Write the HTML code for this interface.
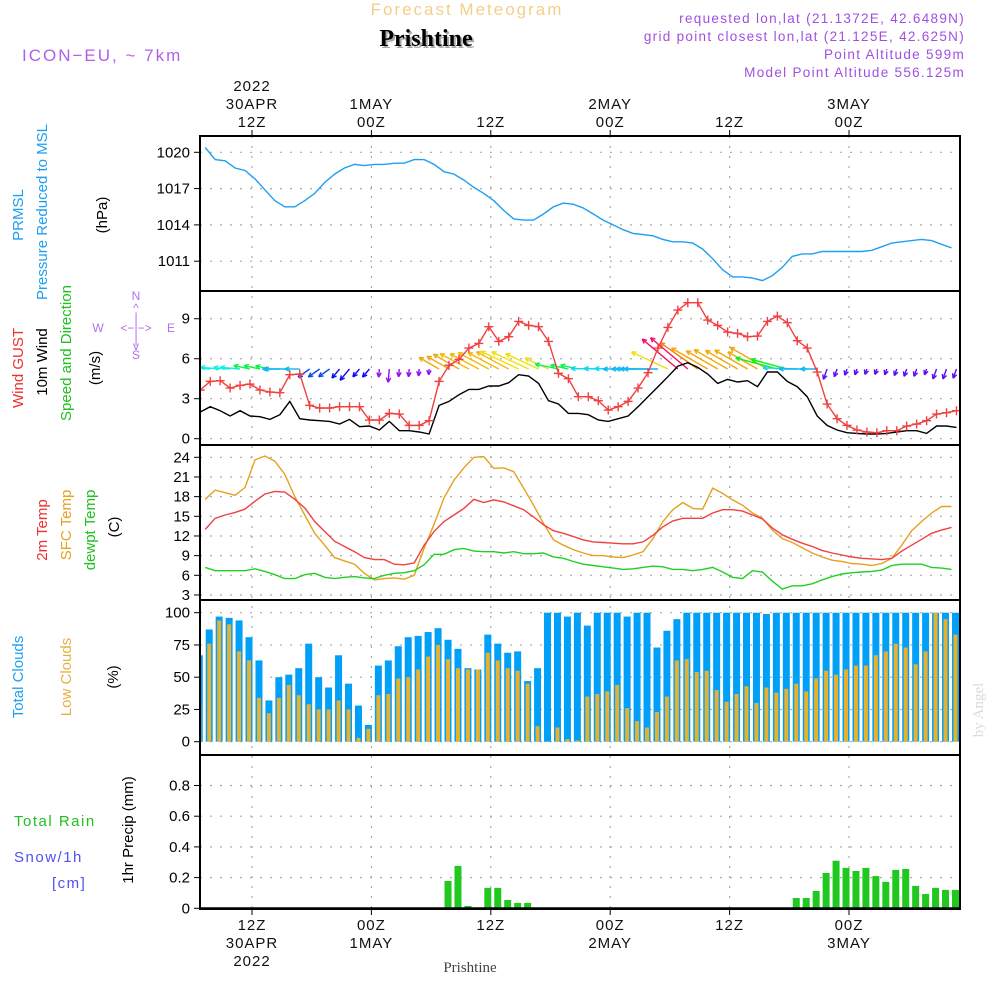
<!DOCTYPE html>
<html><head><meta charset="utf-8"><title>Meteogram Prishtine</title>
<style>
html,body{margin:0;padding:0;background:#fff;}
svg{display:block;font-family:"Liberation Sans",sans-serif;}
</style></head>
<body>
<svg id="chart" width="1000" height="1000" viewBox="0 0 1000 1000" xmlns="http://www.w3.org/2000/svg">
<defs>
<clipPath id="c1"><rect x="200" y="136" width="760" height="155"/></clipPath>
<clipPath id="c2"><rect x="200" y="291" width="760" height="154"/></clipPath>
<clipPath id="c3"><rect x="200" y="445" width="760" height="155"/></clipPath>
<clipPath id="c4"><rect x="200" y="600" width="760" height="155"/></clipPath>
<clipPath id="c5"><rect x="200" y="755" width="760" height="154"/></clipPath>
</defs>
<g>
<text x="467" y="15" text-anchor="middle" font-size="17" fill="#f2d08a" letter-spacing="2">Forecast Meteogram</text>
<text x="428" y="48" text-anchor="middle" font-size="24" font-weight="bold" font-family="Liberation Serif,serif" fill="#aaa">Prishtine</text>
<text x="426" y="46" text-anchor="middle" font-size="24" font-weight="bold" font-family="Liberation Serif,serif" fill="#000">Prishtine</text>
<text x="22" y="61" font-size="17" fill="#b060e8" letter-spacing="2">ICON−EU, ~ 7km</text>
<text x="965" y="23" text-anchor="end" font-size="13.5" fill="#a050e0" letter-spacing="1.3">requested lon,lat (21.1372E, 42.6489N)</text>
<text x="965" y="41" text-anchor="end" font-size="13.5" fill="#a050e0" letter-spacing="1.3">grid point closest lon,lat (21.125E, 42.625N)</text>
<text x="965" y="59" text-anchor="end" font-size="13.5" fill="#a050e0" letter-spacing="1.3">Point Altitude 599m</text>
<text x="965" y="77" text-anchor="end" font-size="13.5" fill="#a050e0" letter-spacing="1.3">Model Point Altitude 556.125m</text>
<text x="983" y="710" transform="rotate(-90 983 710)" text-anchor="middle" font-size="15" font-family="Liberation Serif,serif" fill="#d8dcd8">by Angel</text>
<text x="470" y="972" text-anchor="middle" font-size="15" font-family="Liberation Serif,serif" fill="#444">Prishtine</text>
</g>
<g font-size="15">
<text transform="translate(23,215) rotate(-90)" text-anchor="middle" fill="#1ea0f0">PRMSL</text>
<text transform="translate(47,212) rotate(-90)" text-anchor="middle" fill="#1ea0f0">Pressure Reduced to MSL</text>
<text transform="translate(107,215) rotate(-90)" text-anchor="middle" fill="#000">(hPa)</text>
<text transform="translate(23,368) rotate(-90)" text-anchor="middle" fill="#f03030">Wind GUST</text>
<text transform="translate(47,362) rotate(-90)" text-anchor="middle" fill="#000">10m Wind</text>
<text transform="translate(71,353) rotate(-90)" text-anchor="middle" fill="#20c020">Speed and Direction</text>
<text transform="translate(100,368) rotate(-90)" text-anchor="middle" fill="#000">(m/s)</text>
<g font-size="12" fill="#b070f0" text-anchor="middle">
<text x="136" y="300">N</text><text x="136" y="312">^</text><text x="136" y="321">|</text>
<text x="98" y="332">W</text><text x="136" y="332">&lt;−|−&gt;</text><text x="171" y="332">E</text>
<text x="136" y="343">|</text><text x="136" y="350">v</text><text x="136" y="359">S</text>
</g>
<text transform="translate(47,530) rotate(-90)" text-anchor="middle" fill="#f03030">2m Temp</text>
<text transform="translate(71,525) rotate(-90)" text-anchor="middle" fill="#e8a020">SFC Temp</text>
<text transform="translate(95,530) rotate(-90)" text-anchor="middle" fill="#20c020">dewpt Temp</text>
<text transform="translate(119,527) rotate(-90)" text-anchor="middle" fill="#000">(C)</text>
<text transform="translate(23,677) rotate(-90)" text-anchor="middle" fill="#1ea0f0">Total Clouds</text>
<text transform="translate(71,677) rotate(-90)" text-anchor="middle" fill="#e8b040">Low Clouds</text>
<text transform="translate(118,677) rotate(-90)" text-anchor="middle" fill="#000">(%)</text>
<text x="14" y="826" fill="#20c020" letter-spacing="1.5">Total   Rain</text>
<text x="14" y="862" fill="#5050f0" letter-spacing="1.5">Snow/1h</text>
<text x="52" y="888" fill="#5050f0" letter-spacing="1.5">[cm]</text>
<text transform="translate(133,830) rotate(-90)" text-anchor="middle" fill="#000">1hr Precip (mm)</text>
</g>
<g id="plot"></g>
</svg>
<script>
const pressure=[1020.4,1019.4,1019.3,1018.7,1018.5,1017.8,1016.9,1016.0,1015.5,1015.5,1016.0,1016.6,1017.5,1018.2,1018.7,1019.0,1018.9,1019.0,1019.0,1019.1,1019.1,1019.4,1019.4,1019.0,1018.4,1018.2,1017.7,1017.1,1016.6,1016.0,1015.2,1014.5,1014.4,1014.4,1014.9,1015.5,1015.8,1015.7,1015.4,1014.9,1014.4,1014.0,1013.6,1013.3,1013.2,1013.1,1012.8,1012.6,1012.6,1012.5,1012.0,1011.2,1010.3,1009.7,1009.7,1009.6,1009.4,1009.8,1010.5,1011.4,1011.6,1011.6,1011.8,1011.8,1011.8,1011.8,1011.8,1011.9,1012.2,1012.5,1012.6,1012.7,1012.8,1012.7,1012.4,1012.1];
const temp2m=[13.0,14.7,15.2,15.6,16.1,17.3,18.4,18.8,18.7,17.6,16.3,14.2,12.7,11.2,10.4,9.6,8.7,8.4,8.4,7.7,7.6,7.9,10.6,12.7,14.2,15.2,16.2,17.6,17.1,17.5,17.2,16.6,16.0,14.9,13.7,12.8,12.4,11.9,11.4,11.1,11.0,10.9,10.8,10.8,11.1,12.1,13.4,14.3,14.7,14.7,14.7,15.5,16.0,16.0,15.8,15.2,14.6,13.2,12.2,11.5,10.9,10.4,9.8,9.4,9.1,8.8,8.6,8.5,8.4,8.6,9.7,10.6,11.5,12.4,12.9,13.3];
const sfcTemp=[17.6,19.0,18.6,18.2,19.4,23.6,24.2,23.4,21.4,18.0,15.2,12.4,10.6,8.7,8.2,7.7,6.3,5.3,5.5,5.6,5.4,6.0,10.1,13.8,17.8,20.5,22.4,24.0,24.1,22.3,22.4,21.8,19.3,16.7,13.9,11.4,10.6,9.9,9.4,9.0,9.0,8.8,8.7,9.1,9.6,11.6,14.2,16.0,17.1,16.2,16.1,19.3,18.5,17.5,16.7,15.5,14.7,12.9,11.6,11.0,10.2,9.4,8.8,8.3,8.1,7.8,7.7,7.5,7.8,8.6,10.6,12.8,14.2,15.5,16.5,16.5];
const dewpt=[7.2,6.7,6.7,6.7,6.7,7.0,6.6,6.1,5.5,5.5,6.1,6.3,5.7,5.5,5.7,5.8,5.6,5.5,6.0,6.3,6.4,6.7,7.6,9.2,9.2,9.9,10.1,9.7,9.6,9.6,9.4,9.6,9.3,9.3,9.4,8.8,8.6,8.1,7.7,7.5,7.3,7.1,6.9,7.0,7.2,7.4,7.3,6.9,6.9,6.7,6.9,7.2,6.5,5.7,5.5,6.7,6.5,5.1,3.9,4.4,4.4,4.7,5.3,5.8,6.2,6.4,6.5,6.6,6.8,7.5,7.7,7.7,7.7,7.2,7.1,6.9];
const gust=[3.65,4.3,4.35,3.8,4.0,4.1,3.65,3.5,3.45,4.8,4.85,2.5,2.3,2.3,2.4,2.4,2.4,1.4,1.4,1.9,1.85,1.0,1.0,1.35,4.3,5.5,5.95,6.8,7.15,8.4,7.3,7.65,8.8,8.5,8.4,7.3,4.9,4.5,3.15,3.15,2.85,2.15,2.4,2.8,3.8,4.95,6.8,8.35,9.65,10.2,10.2,8.9,8.5,8.0,7.9,7.65,7.7,8.8,9.2,8.7,7.35,6.8,5.0,2.6,1.5,1.0,0.65,0.5,0.45,0.6,0.6,0.95,1.1,1.35,1.85,1.95,2.1];
const wind10=[2.0,2.4,2.1,1.7,2.1,1.7,1.65,1.45,1.8,2.8,1.5,1.4,1.35,1.3,1.1,1.45,0.9,0.95,0.65,1.3,0.6,0.6,0.5,0.35,2.5,2.8,3.3,3.7,3.7,3.95,3.95,4.2,4.8,4.7,4.15,2.85,2.6,1.9,1.9,1.8,1.4,1.3,1.5,1.7,2.4,3.15,3.9,4.65,5.45,5.7,5.35,4.85,4.15,4.45,4.25,4.35,3.9,5.0,5.0,4.3,3.9,3.15,1.7,1.0,0.65,0.45,0.4,0.35,0.35,0.4,0.5,0.6,0.6,0.4,0.95,0.95,0.85];
const windDir=[175,175,175,175,175,168,168,168,180,180,180,215,215,215,230,230,230,230,265,265,265,265,265,265,150,150,150,152,152,152,152,152,155,155,155,155,168,168,168,178,178,178,180,180,180,180,180,155,140,140,145,150,150,150,150,150,150,150,165,165,178,180,180,250,250,250,250,250,250,250,250,250,250,250,250,250,250];
const totalClouds=[67,87,97,96,94,81,63,32,50,52,57,76,50,42,67,45,28,13,59,63,74,81,82,85,88,79,72,57,56,83,76,69,70,47,57,100,100,97,100,90,100,100,100,97,100,100,73,86,95,100,100,100,100,100,100,100,100,99,100,100,100,100,100,100,100,100,100,100,100,100,100,100,100,100,100,100,100];
const lowClouds=[28,76,94,91,70,63,34,22,34,44,36,29,25,25,32,25,3,10,36,37,49,50,56,66,75,64,57,56,56,69,63,57,55,45,12,0,11,2,1,35,37,39,44,26,16,11,23,35,63,64,54,55,40,31,37,43,30,42,38,41,45,39,49,55,52,56,59,59,67,70,76,73,60,70,100,95,83];
const precip=[0,0,0,0,0,0,0,0,0,0,0,0,0,0,0,0,0,0,0,0,0,0,0,0,0,0.178,0.276,0.015,0,0.133,0.133,0.054,0.035,0.035,0,0,0,0,0,0,0,0,0,0,0,0,0,0,0,0,0,0,0,0,0,0,0,0,0,0,0.067,0.067,0.113,0.23,0.31,0.263,0.243,0.263,0.21,0.172,0.25,0.256,0.146,0.093,0.133,0.12,0.12];
const pressureTicks=[1020,1017,1014,1011];
const windTicks=[9,6,3,0];
const tempTicks=[24,21,18,15,12,9,6,3];
const cloudTicks=[100,75,50,25,0];
const precipTicks=[0.8,0.6,0.4,0.2,0];
const timeMarks=[12,24,36,48,60,72];
const topLabels=[["2022","30APR","12Z"],["1MAY","00Z"],["12Z"],["2MAY","00Z"],["12Z"],["3MAY","00Z"]];
const bottomLabels=[["12Z","30APR","2022"],["00Z","1MAY"],["12Z"],["00Z","2MAY"],["12Z"],["00Z","3MAY"]];

const NS="http://www.w3.org/2000/svg";
const plot=document.getElementById('plot');
function mk(tag,attrs,parent){const e=document.createElementNS(NS,tag);for(const k in attrs)e.setAttribute(k,attrs[k]);(parent||plot).appendChild(e);return e;}
const xTime=h=>252+(h-12)*10*(597/600);
const xLine=j=>xTime(7.3+j);
const xWind=j=>xTime(6.8+j);
const xBar=k=>xTime(6.7+k);
const yP=v=>152.3+(1020-v)*12.1;
const yW=v=>438.7-v*13.33;
const yT=v=>457.3+(24-v)*6.556;
const yC=v=>741.7-v*1.29;
const yR=v=>908.3-v*153.5;

const panels=[[136,291],[291,445],[445,600],[600,755],[755,909]];
const grid=mk('g',{});


function hgrid(vals,fy,skipZero){vals.forEach(v=>{if(skipZero&&v===0)return;const l=mk('line',{x1:200,x2:960,y1:fy(v),y2:fy(v),stroke:'#aaa','stroke-width':1.2,'stroke-dasharray':'2,8'},grid);

});}
hgrid(pressureTicks,yP);hgrid(windTicks,yW);hgrid(tempTicks,yT);hgrid(cloudTicks,yC);hgrid(precipTicks,yR,true);
timeMarks.forEach(h=>{const l=mk('line',{x1:xTime(h),x2:xTime(h),y1:136,y2:909,stroke:'#aaa','stroke-width':1.2,'stroke-dasharray':'2,8'},grid);

});

function ticks(vals,fy,fmt,name){const g=mk('g',{});


vals.forEach(v=>{mk('line',{x1:194,x2:200,y1:fy(v),y2:fy(v),stroke:'#000','stroke-width':1},g);const t=mk('text',{x:190,y:fy(v)+5,'text-anchor':'end','font-size':15,fill:'#000'},g);t.textContent=fmt(v);});}
ticks(pressureTicks,yP,v=>v,'pressure-axis');ticks(windTicks,yW,v=>v,'wind-axis');ticks(tempTicks,yT,v=>v,'temp-axis');ticks(cloudTicks,yC,v=>v,'cloud-axis');ticks(precipTicks,yR,v=>v===0?'0':v.toFixed(1),'precip-axis');

const tl=mk('g',{'font-size':15,fill:'#111','text-anchor':'middle','letter-spacing':'1'});


timeMarks.forEach((h,i)=>{const x=xTime(h);const lines=topLabels[i];lines.forEach((s,k)=>{const t=mk('text',{x:x,y:127-(lines.length-1-k)*18},tl);t.textContent=s;});
bottomLabels[i].forEach((s,k)=>{const t=mk('text',{x:x,y:930+k*18},tl);t.textContent=s;});
mk('line',{x1:x,x2:x,y1:130,y2:136,stroke:'#000'},tl);mk('line',{x1:x,x2:x,y1:909,y2:915,stroke:'#000'},tl);});

function line(arr,fx,fy,color,clip,name){const p=arr.map((v,i)=>fx(i).toFixed(1)+','+fy(v).toFixed(1)).join(' ');const e=mk('polyline',{points:p,fill:'none',stroke:color,'stroke-width':1.4,'clip-path':'url(#'+clip+')'});

return e;}
line(pressure,xLine,yP,'#1ea0f0','c1','pressure-line');

const arrows=mk('g',{'clip-path':'url(#c2)'});


function dirColor(a){const stops=[[130,320],[140,335],[145,30],[152,45],[156,58],[165,120],[175,175],[180,195],[215,225],[235,245],[265,275]];
let h=stops[0][1];for(let i=0;i<stops.length-1;i++){const [a0,h0]=stops[i],[a1,h1]=stops[i+1];if(a>=a0&&a<=a1){let d=h1-h0;if(d<-180)d+=360;h=h0+(a-a0)/(a1-a0)*d;}}if(a>265)h=275;return 'hsl('+((h+360)%360)+',90%,50%)';}
windDir.forEach((d,j)=>{const L=3+8*wind10[j];const r=d*Math.PI/180;const x0=xWind(j),y0=369;const x1=x0+L*Math.cos(r),y1=y0-L*Math.sin(r);const c=dirColor(d);
const g=mk('g',{stroke:c,'stroke-width':1.4,fill:'none'},arrows);


mk('line',{x1:x0,y1:y0,x2:x1,y2:y1},g);
[0.45,-0.45].forEach(o=>{mk('line',{x1:x1,y1:y1,x2:x1-5*Math.cos(r+o),y2:y1+5*Math.sin(r+o)},g);});});
line(wind10,xWind,yW,'#000','c2','wind10-line');
line(gust,xWind,yW,'#f04040','c2','gust-line');
const gm=mk('g',{stroke:'#f04040','stroke-width':1.4,'clip-path':'url(#c2)'});


gust.forEach((v,j)=>{const x=xWind(j),y=yW(v);mk('path',{d:`M${x-4.5},${y}H${x+4.5}M${x},${y-4.5}V${y+4.5}`},gm);});

line(sfcTemp,xLine,yT,'#e8a020','c3','sfc-temp-line');
line(temp2m,xLine,yT,'#f04040','c3','temp2m-line');
line(dewpt,xLine,yT,'#20d020','c3','dewpt-line');

const cb=mk('g',{'clip-path':'url(#c4)'});


totalClouds.forEach((v,k)=>{const x=xBar(k);const b=mk('rect',{x:x-3.5,y:yC(v),width:7,height:yC(0)-yC(v),fill:'#00a0f8'},cb);


const lv=lowClouds[k];const o=mk('rect',{x:x-2,y:yC(lv),width:4,height:yC(0)-yC(lv),fill:'#e8b030'},cb);

});

const pb=mk('g',{'clip-path':'url(#c5)'});


precip.forEach((v,k)=>{if(v<=0)return;const x=xBar(k);const b=mk('rect',{x:x-3.5,y:yR(v),width:7,height:yR(0)-yR(v),fill:'#20c820'},pb);

});
mk('line',{x1:200,x2:960,y1:908,y2:908,stroke:'#000','stroke-width':1.5});

const fr=mk('g',{fill:'none',stroke:'#000','stroke-width':2});


panels.forEach(p=>mk('rect',{x:200,y:p[0],width:760,height:p[1]-p[0]},fr));
</script>
</body></html>
